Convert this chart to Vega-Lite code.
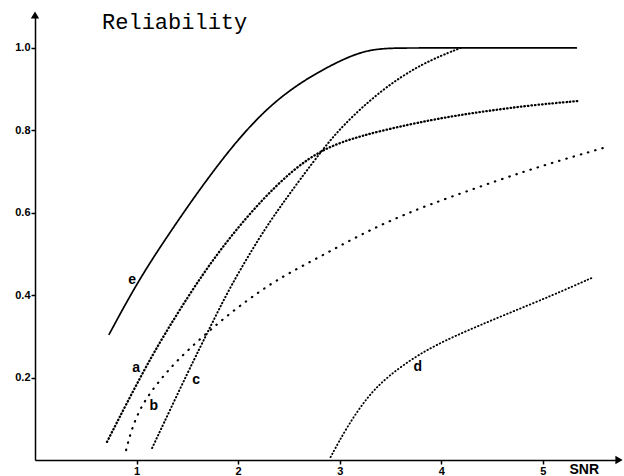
{
  "$schema": "https://vega.github.io/schema/vega-lite/v6.json",
  "width": 584,
  "height": 445,
  "autosize": {"type": "none"},
  "padding": {"left": 35, "top": 15, "right": 5, "bottom": 16},
  "background": "white",
  "config": {"view": {"stroke": null}},
  "datasets": {
    "curves": [
      {"s": "e", "x": 0.73, "y": 0.305},
      {"s": "e", "x": 1.034, "y": 0.444},
      {"s": "e", "x": 1.41, "y": 0.582},
      {"s": "e", "x": 1.626, "y": 0.658},
      {"s": "e", "x": 1.95, "y": 0.765},
      {"s": "e", "x": 2.29, "y": 0.856},
      {"s": "e", "x": 2.61, "y": 0.916},
      {"s": "e", "x": 2.94, "y": 0.962},
      {"s": "e", "x": 3.2, "y": 0.99},
      {"s": "e", "x": 3.42, "y": 1.0},
      {"s": "e", "x": 3.8, "y": 1.0},
      {"s": "e", "x": 5.33, "y": 1.0},
      {"s": "a", "x": 0.709, "y": 0.044},
      {"s": "a", "x": 1.084, "y": 0.225},
      {"s": "a", "x": 1.36, "y": 0.34},
      {"s": "a", "x": 1.655, "y": 0.453},
      {"s": "a", "x": 1.92, "y": 0.541},
      {"s": "a", "x": 2.22, "y": 0.628},
      {"s": "a", "x": 2.54, "y": 0.705},
      {"s": "a", "x": 2.84, "y": 0.756},
      {"s": "a", "x": 3.2, "y": 0.787},
      {"s": "a", "x": 3.69, "y": 0.815},
      {"s": "a", "x": 4.09, "y": 0.834},
      {"s": "a", "x": 4.48, "y": 0.848},
      {"s": "a", "x": 4.88, "y": 0.861},
      {"s": "a", "x": 5.34, "y": 0.871},
      {"s": "c", "x": 1.153, "y": 0.029},
      {"s": "c", "x": 1.527, "y": 0.225},
      {"s": "c", "x": 1.724, "y": 0.322},
      {"s": "c", "x": 1.92, "y": 0.42},
      {"s": "c", "x": 2.22, "y": 0.545},
      {"s": "c", "x": 2.41, "y": 0.613},
      {"s": "c", "x": 2.61, "y": 0.681},
      {"s": "c", "x": 2.84, "y": 0.756},
      {"s": "c", "x": 3.03, "y": 0.812},
      {"s": "c", "x": 3.4, "y": 0.897},
      {"s": "c", "x": 3.81, "y": 0.963},
      {"s": "c", "x": 4.19, "y": 1.0},
      {"s": "b", "x": 0.897, "y": 0.024},
      {"s": "b", "x": 0.956, "y": 0.08},
      {"s": "b", "x": 1.064, "y": 0.14},
      {"s": "b", "x": 1.23, "y": 0.194},
      {"s": "b", "x": 1.4, "y": 0.242},
      {"s": "b", "x": 1.626, "y": 0.294},
      {"s": "b", "x": 1.85, "y": 0.342},
      {"s": "b", "x": 2.09, "y": 0.388},
      {"s": "b", "x": 2.3, "y": 0.424},
      {"s": "b", "x": 2.51, "y": 0.455},
      {"s": "b", "x": 2.81, "y": 0.494},
      {"s": "b", "x": 3.1, "y": 0.533},
      {"s": "b", "x": 3.4, "y": 0.57},
      {"s": "b", "x": 3.69, "y": 0.601},
      {"s": "b", "x": 3.94, "y": 0.625},
      {"s": "b", "x": 4.58, "y": 0.681},
      {"s": "b", "x": 5.07, "y": 0.72},
      {"s": "b", "x": 5.62, "y": 0.759},
      {"s": "d", "x": 2.91, "y": 0.007},
      {"s": "d", "x": 3.07, "y": 0.08},
      {"s": "d", "x": 3.27, "y": 0.153},
      {"s": "d", "x": 3.47, "y": 0.203},
      {"s": "d", "x": 3.79, "y": 0.259},
      {"s": "d", "x": 4.12, "y": 0.3},
      {"s": "d", "x": 4.61, "y": 0.351},
      {"s": "d", "x": 5.1, "y": 0.4},
      {"s": "d", "x": 5.5, "y": 0.444}
    ],
    "labels": [
      {"t": "e", "x": 0.956, "y": 0.436},
      {"t": "a", "x": 0.995, "y": 0.223},
      {"t": "b", "x": 1.17, "y": 0.131},
      {"t": "c", "x": 1.586, "y": 0.194},
      {"t": "d", "x": 3.77, "y": 0.226}
    ],
    "arrows": [
      {"x": 0, "y": 1.08, "shape": "triangle-up"},
      {"x": 5.75, "y": 0, "shape": "triangle-right"}
    ],
    "title": [
      {"t": "Reliability", "x": 0.66, "y": 1.047}
    ]
  },
  "encoding": {
    "x": {
      "field": "x", "type": "quantitative",
      "scale": {"domain": [0, 5.75], "nice": false, "zero": false},
      "axis": {
        "values": [1, 2, 3, 4, 5], "format": "d", "grid": false,
        "domainColor": "black", "domainWidth": 1.5, "tickColor": "black",
        "tickSize": 4, "tickWidth": 1.5, "labelPadding": 1,
        "labelFont": "Liberation Sans", "labelFontSize": 11, "labelFontWeight": "bold", "labelColor": "black",
        "title": "SNR", "titleX": 534, "titleY": 9, "titleAlign": "left", "titleBaseline": "middle",
        "titleFont": "Liberation Sans", "titleFontSize": 14, "titleFontWeight": "bold", "titleColor": "black"
      }
    },
    "y": {
      "field": "y", "type": "quantitative",
      "scale": {"domain": [0, 1.08], "nice": false, "zero": false},
      "axis": {
        "values": [0.2, 0.4, 0.6, 0.8, 1.0], "format": ".1f", "grid": false,
        "domainColor": "black", "domainWidth": 1.5, "tickColor": "black",
        "tickSize": 4, "tickWidth": 1.5, "labelPadding": 1,
        "labelFont": "Liberation Sans", "labelFontSize": 11, "labelFontWeight": "bold", "labelColor": "black",
        "title": null
      }
    }
  },
  "layer": [
    {
      "data": {"name": "curves"},
      "mark": {"type": "line", "interpolate": "basis", "strokeCap": "round", "color": "black"},
      "encoding": {
        "detail": {"field": "s"},
        "strokeDash": {
          "field": "s", "type": "nominal", "legend": null,
          "scale": {"domain": ["a", "b", "c", "d", "e"], "range": [[0.5, 3], [0.5, 7], [0.5, 3], [0.5, 3], [1, 0]]}
        },
        "strokeWidth": {
          "field": "s", "type": "nominal", "legend": null,
          "scale": {"domain": ["a", "b", "c", "d", "e"], "range": [2.3, 1.7, 2.4, 2.3, 1.7]}
        }
      }
    },
    {
      "data": {"name": "labels"},
      "mark": {"type": "text", "font": "Liberation Sans", "fontSize": 14, "fontWeight": "bold", "color": "black", "baseline": "middle", "align": "center"},
      "encoding": {"text": {"field": "t"}}
    },
    {
      "data": {"name": "arrows"},
      "mark": {"type": "point", "filled": true, "color": "black", "size": 70, "opacity": 1, "clip": false},
      "encoding": {"shape": {"field": "shape", "type": "nominal", "scale": null, "legend": null}}
    },
    {
      "data": {"name": "title"},
      "mark": {"type": "text", "font": "Liberation Mono", "fontSize": 22, "color": "black", "baseline": "alphabetic", "align": "left"},
      "encoding": {"text": {"field": "t"}}
    }
  ]
}
